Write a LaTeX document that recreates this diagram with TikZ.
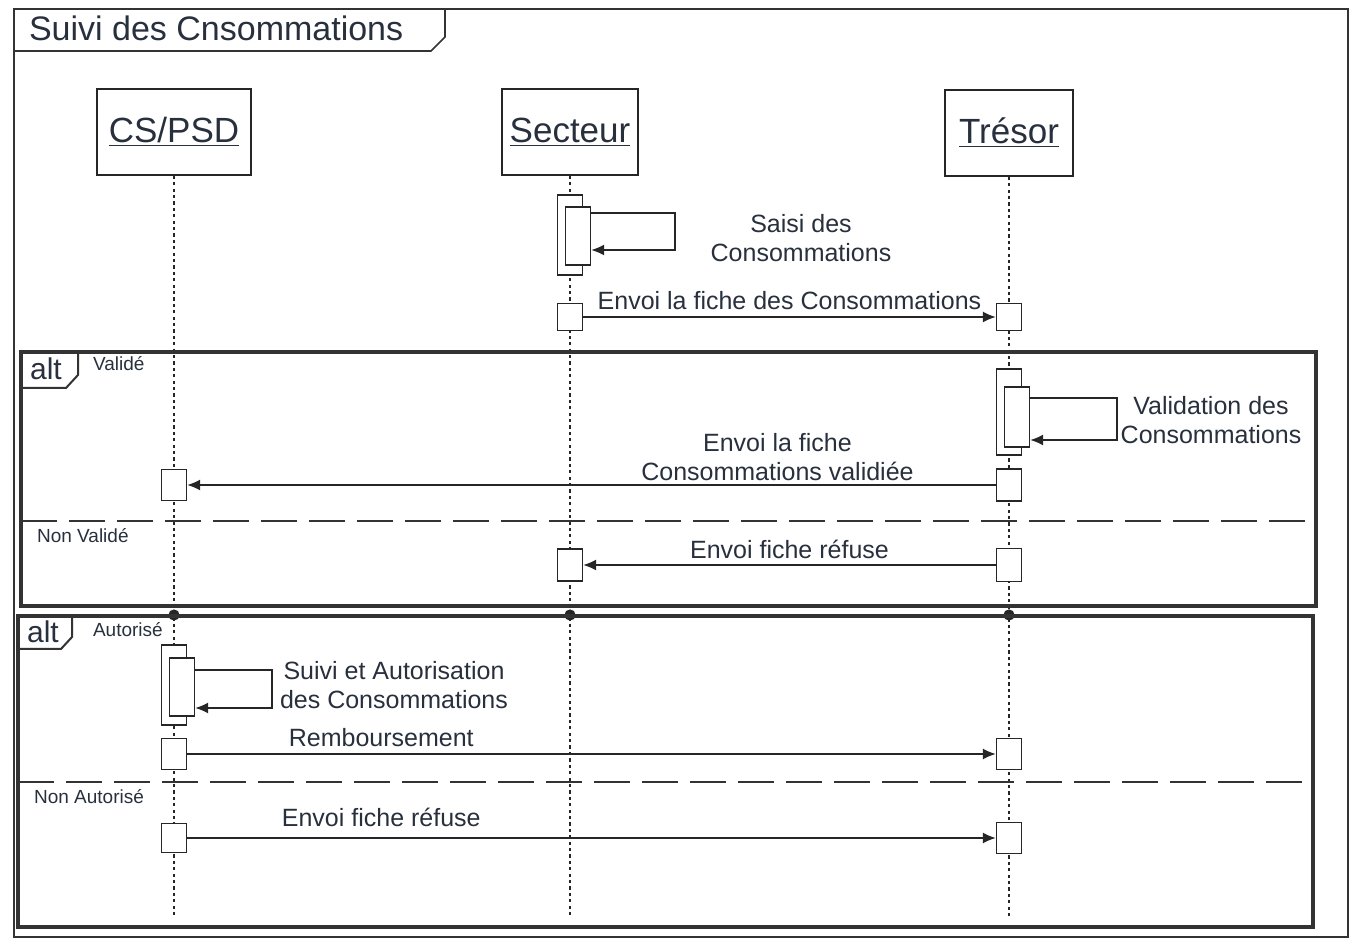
\documentclass[tikz,border=0pt]{standalone}
\usepackage{fontspec}
\setmainfont{Liberation Sans}
\usepackage{xcolor}
\usepackage{tikz}
\usetikzlibrary{arrows.meta,positioning,calc}

\definecolor{inkblue}{HTML}{28303D}

\begin{document}
\begin{tikzpicture}[x=0.5pt, y=-0.5pt,
    lifehead/.style={rectangle, draw=black!85, line width=0.9pt, fill=white, minimum height=43pt, font=\fontsize{17.5}{20}\selectfont, text=inkblue},
    lifeline/.style={black!85, line width=1.2pt, dash pattern=on 1.6pt off 1.6pt},
    actbox/.style={rectangle, draw=black!85, line width=0.7pt, fill=white, minimum width=12.5pt, inner sep=0pt},
    msg/.style={-{Latex[length=6.5pt, width=5.5pt]}, black!85, line width=0.7pt},
    msgtext/.style={font=\fontsize{12.5}{14.5}\selectfont, text=inkblue, align=center},
    altframe/.style={draw=black!80, line width=2pt},
    alttab/.style={draw=black!80, line width=1pt},
    guard/.style={font=\fontsize{9.5}{11}\selectfont, text=inkblue, anchor=west},
    separator/.style={black!80, line width=0.8pt, dash pattern=on 18pt off 6pt}
]

\useasboundingbox (0,0) rectangle (1360,940);

% cadre du diagramme
\draw[black!80, line width=0.8pt] (14,9) rectangle (1348,937);
\draw[black!80, line width=0.8pt] (14,9) -- (445,9) -- (445,37) -- (431,51) -- (14,51);
\node[anchor=west, font=\fontsize{17}{20}\selectfont, text=inkblue] (title) at (22,28) {Suivi des Cnsommations};

% participants
\node[lifehead, minimum width=77pt] (cs_psd) at (174,132) {\underline{CS/PSD}};
\node[lifehead, minimum width=68pt] (secteur) at (570,132) {\underline{Secteur}};
\node[lifehead, minimum width=64pt] (tresor) at (1009,133) {\underline{Trésor}};

\foreach \n in {cs_psd, secteur, tresor} {
  \draw[lifeline] (\n.south) -- (\n.south |- 0,918);
  \fill[black!85] (\n.south |- 0,615) circle (2.8pt);
}

% fragments alt
\draw[altframe] (21,352) rectangle (1316,606);
\draw[alttab] (21,388) -- (66,388) -- (78,375) -- (78,352);
\node[font=\fontsize{15}{18}\selectfont, text=inkblue] (alt_valid) at (46,369) {alt};
\node[guard] (g_valide) at (86,364) {Validé};
\draw[separator] (21,521) -- (1316,521);
\node[guard] (g_nonvalide) at (30,536) {Non Validé};

\draw[altframe] (18,616) rectangle (1313,927);
\draw[alttab] (18,649) -- (61,649) -- (72,637) -- (72,616);
\node[font=\fontsize{15}{18}\selectfont, text=inkblue] (alt_autor) at (43,632) {alt};
\node[guard] (g_autorise) at (86,630) {Autorisé};
\draw[separator] (18,782) -- (1313,782);
\node[guard] (g_nonautorise) at (27,797) {Non Autorisé};

% saisie
\node[actbox, minimum height=40pt] (saisi_out) at (570,235) {};
\node[actbox, minimum height=29pt] (saisi_in) at (578,236) {};
\draw[msg] (saisi_in.east |- 0,213) -- (675,213) -- (675,250) -- (saisi_in.east |- 0,250);
\node[msgtext] (saisi_lbl) at (801,238) {Saisi des\\Consommations};

\node[actbox, minimum height=13.5pt] (envoi_sec) at (570,317) {};
\node[actbox, minimum height=13.5pt] (envoi_tre) at (1009,317) {};
\draw[msg] (envoi_sec) -- (envoi_tre) node[midway, above, msgtext] {Envoi la fiche des Consommations};

% validation
\node[actbox, minimum height=43pt] (valid_out) at (1009,412) {};
\node[actbox, minimum height=30pt] (valid_in) at (1017,417) {};
\draw[msg] (valid_in.east |- 0,398) -- (1117,398) -- (1117,440) -- (valid_in.east |- 0,440);
\node[msgtext] (valid_lbl) at (1211,420) {Validation des\\Consommations};

\node[actbox, minimum height=16pt] (valid_tre) at (1009,485) {};
\node[actbox, minimum height=15.5pt] (valid_cs) at (174,485) {};
\draw[msg] (valid_tre) -- (valid_cs) node[pos=0.27, above, msgtext, inner sep=2pt] {Envoi la fiche\\Consommations validiée};

\node[actbox, minimum height=16.5pt] (refus_tre) at (1009,565) {};
\node[actbox, minimum height=16pt] (refus_sec) at (570,565) {};
\draw[msg] (refus_tre) -- (refus_sec) node[midway, above, msgtext, inner sep=3pt] {Envoi fiche réfuse};

% autorisation
\node[actbox, minimum height=40pt] (suivi_out) at (174,685) {};
\node[actbox, minimum height=29pt] (suivi_in) at (182,687) {};
\draw[msg] (suivi_in.east |- 0,670) -- (272,670) -- (272,708) -- (suivi_in.east |- 0,708);
\node[msgtext] (suivi_lbl) at (394,685) {Suivi et Autorisation\\des Consommations};

\node[actbox, minimum height=15.5pt] (rembours_cs) at (174,754) {};
\node[actbox, minimum height=15.5pt] (rembours_tre) at (1009,754) {};
\draw[msg] (rembours_cs) -- (rembours_tre) node[pos=0.24, above, msgtext] {Remboursement};

\node[actbox, minimum height=14.5pt] (refus2_cs) at (174,838) {};
\node[actbox, minimum height=15.5pt] (refus2_tre) at (1009,838) {};
\draw[msg] (refus2_cs) -- (refus2_tre) node[pos=0.24, above, msgtext, yshift=2pt] {Envoi fiche réfuse};

\end{tikzpicture}
\end{document}
